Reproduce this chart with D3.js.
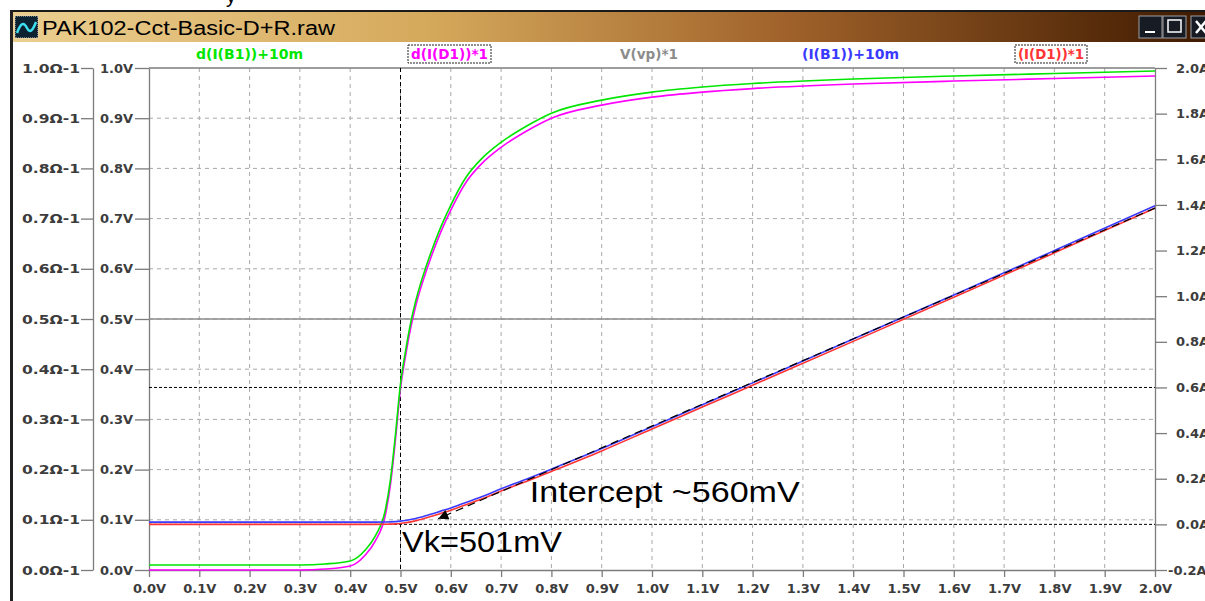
<!DOCTYPE html>
<html>
<head>
<meta charset="utf-8">
<script src="https://cdn.jsdelivr.net/npm/d3@7"></script>
<style>
body { margin: 0; background: #fff; overflow: hidden; }
svg { display: block; }
.axis text { font-family: "DejaVu Sans", sans-serif; font-weight: bold; font-size: 13px; fill: #3c3c3c; }
.axis line, .axis path { stroke: #7c7c7c; stroke-width: 1.3; }
.legend { font-family: "DejaVu Sans", sans-serif; font-weight: bold; font-size: 14px; }
.note { font-family: "Liberation Sans", Arial, sans-serif; font-size: 29px; fill: #000; }
</style>
</head>
<body>
<svg id="chart" width="1205" height="601"></svg>
<script>
// sweep voltage (V) and the traces
var vd = [0, 0.30, 0.35, 0.40, 0.43, 0.45, 0.47, 0.48, 0.49, 0.50, 0.51, 0.52, 0.53, 0.54, 0.55, 0.56,
          0.58, 0.60, 0.63, 0.66, 0.70, 0.75, 0.80, 0.90, 1.00, 1.10, 1.20, 1.40, 1.60, 1.80, 2.00];
// d(I(D1)) in 1/ohm
var dID1 = [0, 0, 0.002, 0.008, 0.030, 0.058, 0.110, 0.170, 0.260, 0.361, 0.426, 0.481, 0.525, 0.561, 0.592, 0.621,
            0.673, 0.717, 0.772, 0.808, 0.842, 0.874, 0.900, 0.926, 0.942, 0.952, 0.959, 0.968, 0.974, 0.979, 0.984];
// d(I(B1))+10m in 1/ohm
var dIB1 = [0.010, 0.010, 0.012, 0.018, 0.040, 0.068, 0.120, 0.180, 0.270, 0.371, 0.436, 0.491, 0.535, 0.571, 0.602, 0.631,
            0.683, 0.727, 0.782, 0.818, 0.852, 0.884, 0.910, 0.936, 0.952, 0.962, 0.969, 0.978, 0.984, 0.989, 0.994];
// I(D1) in A
var iD1 = [0, 0, 0, 0, 0, 0, 0.0005, 0.001, 0.002, 0.004, 0.007, 0.011, 0.016, 0.021, 0.028, 0.034,
           0.048, 0.062, 0.086, 0.110, 0.146, 0.188, 0.232, 0.322, 0.418, 0.514, 0.610, 0.802, 0.995, 1.190, 1.386];
// I(B1)+10m in A
var iB1 = [0.010, 0.010, 0.010, 0.010, 0.010, 0.010, 0.0105, 0.011, 0.012, 0.014, 0.017, 0.021, 0.026, 0.031, 0.038, 0.044,
           0.058, 0.072, 0.096, 0.120, 0.156, 0.198, 0.242, 0.332, 0.428, 0.524, 0.620, 0.812, 1.005, 1.200, 1.396];
// V(vp) in V
var vp = [0.5, 0.5, 0.5, 0.5, 0.5, 0.5, 0.5, 0.5, 0.5, 0.5, 0.5, 0.5, 0.5, 0.5, 0.5, 0.5,
          0.5, 0.5, 0.5, 0.5, 0.5, 0.5, 0.5, 0.5, 0.5, 0.5, 0.5, 0.5, 0.5, 0.5, 0.5];

var xTicks = d3.range(0, 21).map(function(i) { return i / 10; });
var leftTicks = d3.range(0, 11).map(function(i) { return i / 10; });
var rightTicks = d3.range(-1, 11).map(function(i) { return i / 5; });

var legendNames = ["d(I(B1))+10m", "d(I(D1))*1", "V(vp)*1", "(I(B1))+10m", "(I(D1))*1"];
var legendColors = ["#00e600", "#ff00ff", "#8c8c8c", "#3a3aff", "#ff3434"];

// cursors and annotation
var cursorV = [0.5];
var cursorA = [0.6, 0.0];
var tangentV = [2.0, 0.575];
var tangentA = [1.386, 0.025];
var notes = [
  { text: "Intercept ~560mV", v: 0.757, y: 0.135, len: 270 },
  { text: "Vk=501mV", v: 0.503, y: 0.036, len: 160 }
];

var plotLeft = 149, plotRight = 1155, plotTop = 68, plotBottom = 570;
var svg = d3.select("#chart");

var x = d3.scaleLinear().domain([0, 2]).range([plotLeft, plotRight]);
var yV = d3.scaleLinear().domain([0, 1]).range([plotBottom, plotTop]);
var yA = d3.scaleLinear().domain([-0.2, 2.0]).range([plotBottom, plotTop]);

// title bar
var defs = svg.append("defs");
var grad = defs.append("linearGradient").attr("id", "tb");
grad.append("stop").attr("offset", "0%").attr("stop-color", "#ebcf90");
grad.append("stop").attr("offset", "35%").attr("stop-color", "#d5a95c");
grad.append("stop").attr("offset", "65%").attr("stop-color", "#a0622a");
grad.append("stop").attr("offset", "100%").attr("stop-color", "#3f1a00");

svg.append("text").attr("x", 226).attr("y", 3).attr("font-family", "Liberation Sans").attr("font-size", 20).text("y");
svg.append("rect").attr("x", 10).attr("y", 10).attr("width", 1195).attr("height", 3).attr("fill", "#1a1a1a");
svg.append("rect").attr("x", 10).attr("y", 12).attr("width", 1195).attr("height", 30).attr("fill", "url(#tb)");
svg.append("rect").attr("x", 10).attr("y", 10).attr("width", 3).attr("height", 591).attr("fill", "#202020");

svg.append("rect").attr("x", 15).attr("y", 16).attr("width", 23).attr("height", 22)
  .attr("fill", "#0c2230").attr("stroke", "#d8d8d8").attr("stroke-dasharray", "1,1");
svg.append("path").attr("d", "M17,33 C21,22 24,22 27,28 C30,34 33,30 36,22")
  .attr("fill", "none").attr("stroke", "#3ce0f0").attr("stroke-width", 2.5);
svg.append("text").attr("x", 42).attr("y", 35).attr("font-family", "Liberation Sans, Arial")
  .attr("font-size", 20).attr("textLength", 293).attr("lengthAdjust", "spacingAndGlyphs")
  .attr("fill", "#000").text("PAK102-Cct-Basic-D+R.raw");

var btns = [1139, 1163, 1191];
svg.selectAll(".btn").data(btns).enter().append("rect").attr("class", "btn")
  .attr("x", function(d) { return d; }).attr("y", 16).attr("width", 23).attr("height", 22)
  .attr("fill", "#161b24").attr("stroke", "#9aa0a8").attr("stroke-width", 1);
svg.append("rect").attr("x", 1145).attr("y", 31).attr("width", 10).attr("height", 2).attr("fill", "#fff");
svg.append("rect").attr("x", 1168).attr("y", 20).attr("width", 13).attr("height", 12)
  .attr("fill", "none").attr("stroke", "#fff").attr("stroke-width", 1.5);
svg.append("path").attr("d", "M1196,21 L1206,33 M1206,21 L1196,33").attr("stroke", "#fff").attr("stroke-width", 2.5);

// grid
var g = svg.append("g");
g.selectAll(".vgrid").data(xTicks.slice(1, -1)).enter().append("line")
  .attr("x1", x).attr("x2", x).attr("y1", plotTop).attr("y2", plotBottom)
  .attr("stroke", "#a8a8a8").attr("stroke-dasharray", "4,4");
g.selectAll(".hgrid").data(leftTicks.slice(1, -1)).enter().append("line")
  .attr("x1", plotLeft).attr("x2", plotRight).attr("y1", yV).attr("y2", yV)
  .attr("stroke", "#a8a8a8").attr("stroke-dasharray", "4,4");
g.append("line").attr("x1", plotLeft).attr("x2", plotRight).attr("y1", plotTop).attr("y2", plotTop)
  .attr("stroke", "#7c7c7c").attr("stroke-width", 1.3);

// axes
svg.append("g").attr("class", "axis").attr("transform", "translate(0," + plotBottom + ")")
  .call(d3.axisBottom(x).tickValues(xTicks).tickSize(7).tickPadding(7).tickSizeOuter(0)
    .tickFormat(function(d) { return d.toFixed(1) + "V"; }));
svg.append("g").attr("class", "axis").attr("transform", "translate(" + plotLeft + ",0)")
  .call(d3.axisLeft(yV).tickValues(leftTicks).tickSize(14).tickPadding(2).tickSizeOuter(0)
    .tickFormat(function(d) { return d.toFixed(1) + "V"; }));
var ohm = svg.append("g").attr("class", "axis").attr("transform", "translate(93,0)")
  .call(d3.axisLeft(yV).tickValues(leftTicks).tickSize(12).tickPadding(1).tickSizeOuter(0)
    .tickFormat(function(d) { return d.toFixed(1) + "\u03A9-1"; }));
ohm.selectAll("text").attr("textLength", 58).attr("lengthAdjust", "spacingAndGlyphs");
var rAx = svg.append("g").attr("class", "axis").attr("transform", "translate(" + plotRight + ",0)")
  .call(d3.axisRight(yA).tickValues(rightTicks).tickSize(12).tickPadding(9).tickSizeOuter(0)
    .tickFormat(function(d) { return d.toFixed(1) + "A"; }));
rAx.selectAll("text").attr("dx", function(d) { return d < 0 ? -8 : 0; });

// traces
var plot = svg.append("g");
defs.append("clipPath").attr("id", "clip").append("rect")
  .attr("x", plotLeft).attr("y", plotTop - 2).attr("width", plotRight - plotLeft).attr("height", plotBottom - plotTop + 4);
plot.attr("clip-path", "url(#clip)");

function trace(vals, yScale, color) {
  var line = d3.line().curve(d3.curveMonotoneX)
    .x(function(d, i) { return x(vd[i]); })
    .y(function(d) { return yScale(d); });
  plot.append("path").datum(vals).attr("d", line)
    .attr("fill", "none").attr("stroke", color).attr("stroke-width", 1.6);
}
trace(vp, yV, legendColors[2]);

// cursors
plot.selectAll(".cv").data(cursorV).enter().append("line")
  .attr("x1", x).attr("x2", x).attr("y1", plotTop).attr("y2", plotBottom)
  .attr("stroke", "#000").attr("stroke-dasharray", "4,3");
plot.selectAll(".ca").data(cursorA).enter().append("line")
  .attr("x1", plotLeft).attr("x2", plotRight).attr("y1", yA).attr("y2", yA)
  .attr("stroke", "#000").attr("stroke-dasharray", "3,2");

trace(dID1, yV, legendColors[1]);
trace(dIB1, yV, legendColors[0]);
trace(iD1, yA, legendColors[4]);
trace(iB1, yA, legendColors[3]);

// tangent arrow
defs.append("marker").attr("id", "arr").attr("viewBox", "0 0 10 10").attr("refX", 10).attr("refY", 5)
  .attr("markerWidth", 18).attr("markerHeight", 10).attr("markerUnits", "userSpaceOnUse").attr("orient", "auto")
  .append("path").attr("d", "M0,0 L10,5 L0,10 Z").attr("fill", "#000");
svg.append("line")
  .attr("x1", x(tangentV[0])).attr("y1", yA(tangentA[0]))
  .attr("x2", x(tangentV[1])).attr("y2", yA(tangentA[1]))
  .attr("stroke", "#000").attr("stroke-width", 1.2).attr("stroke-dasharray", "8,5")
  .attr("marker-end", "url(#arr)");

// notes
svg.selectAll(".note").data(notes).enter().append("text").attr("class", "note")
  .attr("x", function(d) { return x(d.v); }).attr("y", function(d) { return yV(d.y); })
  .attr("textLength", function(d) { return d.len; }).attr("lengthAdjust", "spacingAndGlyphs")
  .text(function(d) { return d.text; });

// legend
var legX = [196, 411, 620, 802, 1018];
var legW = [107, 77, 58, 97, 66];
var boxed = [false, true, false, false, true];
legendNames.forEach(function(n, i) {
  if (boxed[i]) {
    svg.append("rect").attr("x", legX[i] - 3).attr("y", 45).attr("width", legW[i] + 6).attr("height", 18)
      .attr("fill", "none").attr("stroke", "#222").attr("stroke-dasharray", "2,1");
  }
  svg.append("text").attr("class", "legend").attr("x", legX[i]).attr("y", 59)
    .attr("fill", legendColors[i]).attr("textLength", legW[i]).attr("lengthAdjust", "spacingAndGlyphs")
    .text(n);
});
</script>
</body>
</html>
